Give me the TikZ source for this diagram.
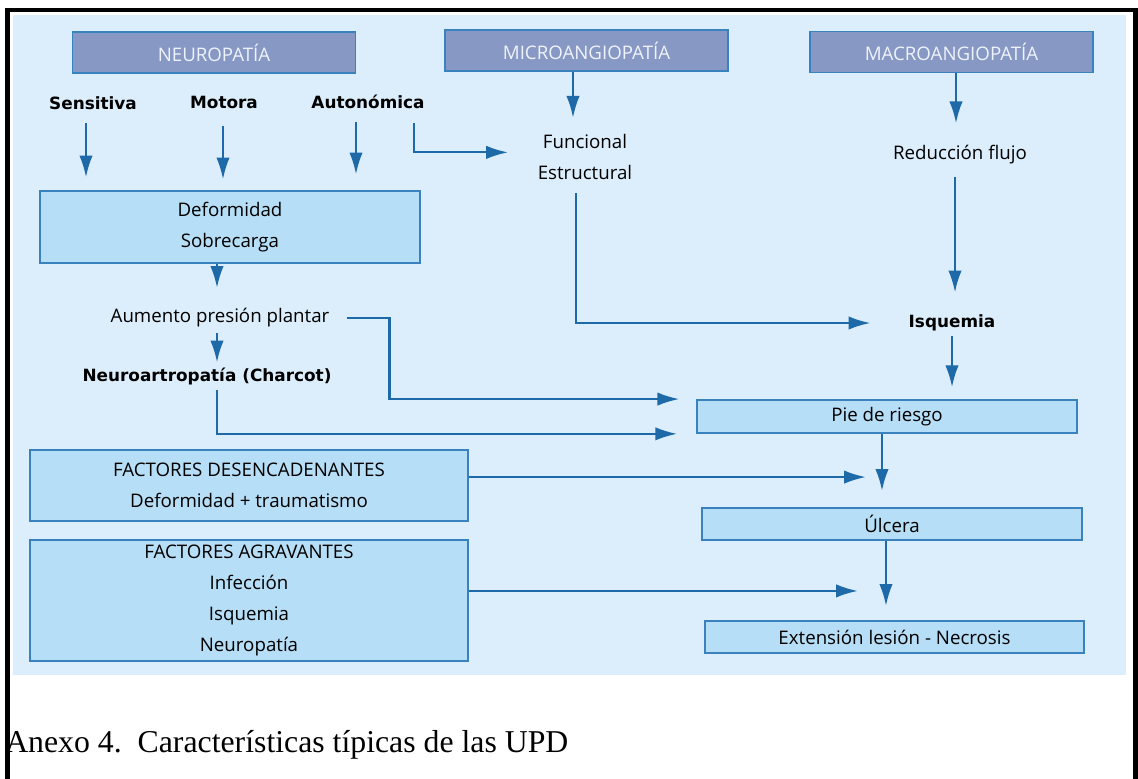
\documentclass[tikz,border=0pt]{standalone}
\usepackage{fontspec}
\setmainfont{Liberation Serif}
\newfontfamily\diagfont{Open Sans}
\newfontfamily\labfont{DejaVu Sans}
\usetikzlibrary{arrows.meta}

\definecolor{fondo}{HTML}{DCEEFB}
\definecolor{celeste}{HTML}{B6DEF6}
\definecolor{pizarra}{HTML}{8798C4}
\definecolor{borde}{HTML}{3A82BE}
\definecolor{azul}{HTML}{1E69A8}
\definecolor{blanco}{HTML}{EEF2FA}

\begin{document}
\begin{tikzpicture}[x=0.025cm,y=-0.025cm,
  caja/.style={draw=borde,fill=celeste,line width=1.2pt,inner sep=0pt,align=center,
    font=\diagfont\fontsize{13.3}{22}\selectfont,text=black},
  cabecera/.style={caja,fill=pizarra,text=blanco,minimum width=7.08cm,minimum height=1.02cm},
  texto/.style={inner sep=0pt,text height=10pt,text depth=3pt,font=\diagfont\fontsize{13.3}{22}\selectfont,text=black},
  negrita/.style={inner sep=0pt,text height=9pt,text depth=2.5pt,font=\labfont\bfseries\fontsize{12}{14}\selectfont},
  flecha/.style={draw=azul,line width=1.6pt,-{Latex[length=15.5pt,width=9.5pt]}}]
  \useasboundingbox (0,0) rectangle (1138,778);
  \fill[fondo] (13,15) rectangle (1126,675);
  \draw[line width=3.4pt] (7.5,790) -- (7.5,10) -- (1135.5,10) -- (1135.5,790);

  \node[cabecera] (neuro) at (214,52.5) {NEUROPATÍA};
  \node[cabecera] (micro) at (586.5,50.5) {MICROANGIOPATÍA};
  \node[cabecera] (macro) at (951.5,52) {MACROANGIOPATÍA};

  \node[negrita] (sens) at (93,105) {Sensitiva};
  \node[negrita] (mot) at (224,104) {Motora};
  \node[negrita] (auto) at (368,104) {Autonómica};
  \node[texto] (func) at (585,144) {Funcional};
  \node[texto] (estr) at (585,175) {Estructural};
  \node[texto] (red) at (960,155) {Reducción flujo};

  \node[caja,minimum width=9.5cm,minimum height=1.8cm] (deform) at (230,227) {Deformidad\\Sobrecarga};
  \node[texto] (aum) at (220,318) {Aumento presión plantar};
  \node[negrita] (charcot) at (207,377) {Neuroartropatía (Charcot)};
  \node[negrita] (isq) at (952,323) {Isquemia};

  \node[caja,minimum width=9.5cm,minimum height=0.825cm] (pie) at (887,416.5) {Pie de riesgo};
  \node[caja,minimum width=9.5cm,minimum height=0.8cm] (ulc) at (892,524) {Úlcera};
  \node[caja,minimum width=9.48cm,minimum height=0.8cm] (ext) at (894.5,637) {Extensión lesión - Necrosis};
  \node[caja,minimum width=10.95cm,minimum height=1.775cm] (desenc) at (249,485.5) {FACTORES DESENCADENANTES\\Deformidad + traumatismo};
  \node[caja,minimum width=10.95cm,minimum height=3.025cm] (agrav) at (249,600.5) {FACTORES AGRAVANTES\\Infección\\Isquemia\\Neuropatía};

  \draw[flecha] (sens.south) ++(-7,10) -- ++(0,54);
  \draw[flecha] (mot.south) ++(-1,14) -- ++(0,53);
  \draw[flecha] (auto.south) ++(-12,10) -- ++(0,52);
  \draw[flecha] (auto.south) ++(46,11) -- ++(0,29) -- ++(94,0);
  \draw[flecha] (micro.south) ++(-13.5,0) -- ++(0,46);
  \draw[flecha] (macro.south) ++(4.5,0) -- ++(0,50);
  \draw[flecha] (red.south) ++(-5,13) -- ++(0,115);
  \draw[flecha,shorten >=27pt] (estr.south) ++(-9,9) |- (isq.west);
  \draw[flecha,shorten <=3pt,shorten >=8.5pt] (isq.south) -- (isq.south |- pie.north);
  \draw[flecha] (deform.south) ++(-13,0) -- ++(0,24);
  \draw[flecha] (aum.south) ++(-3,6) -- ++(0,29);
  \draw[flecha,shorten >=12pt] (aum.east) ++(17,0) -- ++(43,0) |- ([yshift=12.4pt]pie.west);
  \draw[flecha,shorten >=13.5pt] (charcot.south) ++(10,5) |- (pie.south west);
  \draw[flecha] (pie.south) ++(-5,0) -- ++(0,57);
  \draw[flecha] ([yshift=6pt]desenc.east) -- ++(397,0);
  \draw[flecha] (ulc.south) ++(-6,0) -- ++(0,65);
  \draw[flecha] ([yshift=6.8pt]agrav.east) -- ++(389,0);

  \node[anchor=base west,inner sep=0pt,font=\fontsize{22.6}{27}\selectfont] (pie de foto) at (5,752) {Anexo 4.\ \ Características típicas de las UPD};
\end{tikzpicture}
\end{document}
